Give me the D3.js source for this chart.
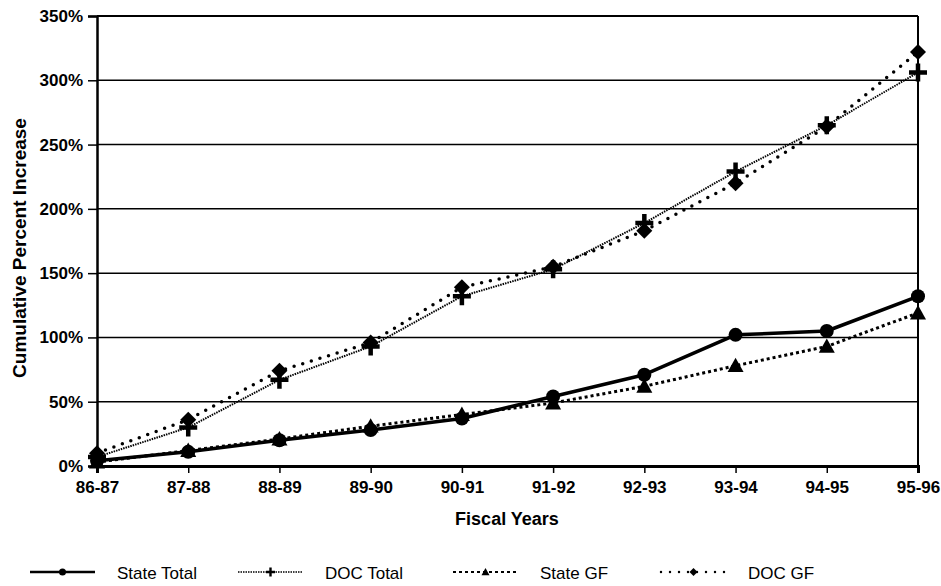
<!DOCTYPE html>
<html>
<head>
<meta charset="utf-8">
<script src="https://cdn.jsdelivr.net/npm/d3@7"></script>
<style>
  html, body { margin: 0; padding: 0; background: #fff; }
  svg { display: block; }
  text { font-family: "Liberation Sans", Arial, sans-serif; fill: #000; }
</style>
</head>
<body>
<script>
// Fiscal years on the x axis
const years = ["86-87", "87-88", "88-89", "89-90", "90-91", "91-92", "92-93", "93-94", "94-95", "95-96"];

// Cumulative percent increase per series
const stateTotal = [4, 11, 20, 28, 37, 54, 71, 102, 105, 132];
const docTotal   = [7, 30, 67, 93, 132, 153, 189, 229, 265, 306];
const stateGF    = [3, 12, 21, 31, 40, 49, 62, 78, 93, 119];
const docGF      = [10, 36, 74, 96, 139, 155, 183, 220, 264, 322];

const yTicks = [0, 50, 100, 150, 200, 250, 300, 350];
const seriesNames = ["State Total", "DOC Total", "State GF", "DOC GF"];

const W = 941, H = 586;
const margin = { left: 97, right: 23, top: 16, bottom: 120 };

const svg = d3.select("body").append("svg").attr("width", W).attr("height", H);

const x = d3.scalePoint().domain(years).range([margin.left, W - margin.right]);
const y = d3.scaleLinear().domain([0, 350]).range([H - margin.bottom, margin.top]);

// horizontal gridlines
svg.append("g")
  .selectAll("line")
  .data(yTicks.filter(d => d > 0))
  .join("line")
  .attr("x1", margin.left).attr("x2", W - margin.right)
  .attr("y1", d => y(d)).attr("y2", d => y(d))
  .attr("stroke", "#000").attr("stroke-width", d => d === 350 ? 2 : 1.5);

// right border
svg.append("line")
  .attr("x1", W - margin.right).attr("x2", W - margin.right)
  .attr("y1", y(350)).attr("y2", y(0))
  .attr("stroke", "#000").attr("stroke-width", 2);

// y axis
const yAxis = svg.append("g")
  .attr("transform", `translate(${margin.left},0)`)
  .call(d3.axisLeft(y).tickValues(yTicks).tickFormat(d => d + "%").tickSizeOuter(0).tickSize(9).tickPadding(5));
yAxis.select(".domain").attr("stroke-width", 2.5);
yAxis.selectAll(".tick line").attr("stroke-width", 1.5);
yAxis.selectAll("text").attr("font-size", 17).attr("font-weight", "bold");

// x axis
const xAxis = svg.append("g")
  .attr("transform", `translate(0,${y(0)})`)
  .call(d3.axisBottom(x).tickSizeOuter(0).tickSize(7).tickPadding(8));
xAxis.select(".domain").attr("stroke-width", 3);
xAxis.selectAll(".tick line").attr("stroke-width", 1.5);
xAxis.selectAll("text").attr("font-size", 17).attr("font-weight", "bold");

// axis titles
svg.append("text")
  .attr("x", 507).attr("y", 525)
  .attr("text-anchor", "middle")
  .attr("font-size", 18).attr("font-weight", "bold")
  .text("Fiscal Years");

svg.append("text")
  .attr("transform", `translate(26,248) rotate(-90)`)
  .attr("text-anchor", "middle")
  .attr("font-size", 19).attr("font-weight", "bold")
  .text("Cumulative Percent Increase");

// series styles
const styles = [
  { values: stateTotal, width: 3.5, dash: null, cap: "butt", marker: "circle", size: 14 },
  { values: docTotal, width: 2, dash: "1.5,1", cap: "butt", marker: "plus", size: 18 },
  { values: stateGF, width: 3, dash: "3,3", cap: "butt", marker: "triangle", size: 16 },
  { values: docGF, width: 3.5, dash: "0,9", cap: "round", marker: "diamond", size: 16 }
];

const line = d3.line().x((d, i) => x(years[i])).y(d => y(d));

function markerPath(type, s) {
  const h = s / 2;
  if (type === "circle") return d3.symbol(d3.symbolCircle, Math.PI * h * h)();
  if (type === "triangle") return `M0,${-h}L${h},${h * 0.8}L${-h},${h * 0.8}Z`;
  if (type === "diamond") return `M0,${-h}L${h},0L0,${h}L${-h},0Z`;
  // plus sign made of two bars
  const t = Math.max(1.2, s / 8);
  return `M${-t},${-h}H${t}V${-t}H${h}V${t}H${t}V${h}H${-t}V${t}H${-h}V${-t}H${-t}Z`;
}

const plot = svg.append("g");
styles.forEach(s => {
  plot.append("path")
    .attr("d", line(s.values))
    .attr("fill", "none")
    .attr("stroke", "#000")
    .attr("stroke-width", s.width)
    .attr("stroke-dasharray", s.dash)
    .attr("stroke-linecap", s.cap)
    .attr("stroke-linejoin", "round");
  plot.append("g")
    .selectAll("path")
    .data(s.values)
    .join("path")
    .attr("transform", (d, i) => `translate(${x(years[i])},${y(d)})`)
    .attr("d", markerPath(s.marker, s.size))
    .attr("fill", "#000");
});

// legend
const legendX = [117, 325, 540, 748];
const legendY = 572;
const legend = svg.append("g");
styles.forEach((s, i) => {
  const g = legend.append("g");
  const x0 = legendX[i] - 87, x1 = legendX[i] - 22;
  g.append("line")
    .attr("x1", x0).attr("x2", x1)
    .attr("y1", legendY).attr("y2", legendY)
    .attr("stroke", "#000")
    .attr("stroke-width", s.width * 0.7)
    .attr("stroke-dasharray", s.dash)
    .attr("stroke-linecap", s.cap);
  g.append("path")
    .attr("transform", `translate(${(x0 + x1) / 2},${legendY})`)
    .attr("d", markerPath(s.marker, s.size * 0.5))
    .attr("fill", "#000");
  g.append("text")
    .attr("x", legendX[i]).attr("y", legendY + 7)
    .attr("font-size", 17)
    .text(seriesNames[i]);
});
</script>
</body>
</html>
